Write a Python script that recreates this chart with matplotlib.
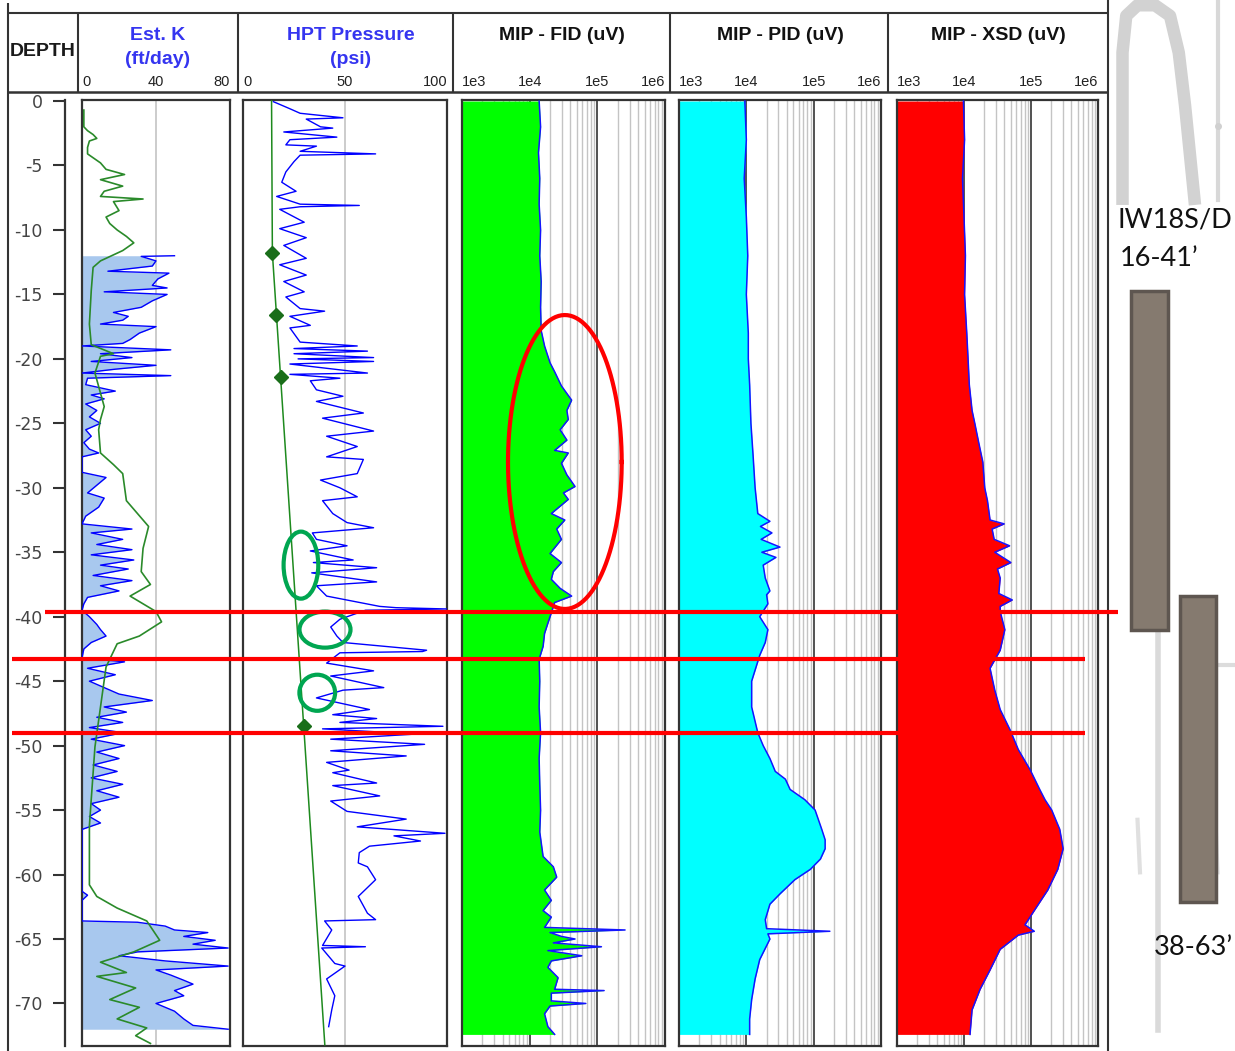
import numpy as np
import matplotlib.pyplot as plt
import matplotlib.transforms as mtransforms
from matplotlib.lines import Line2D
from matplotlib.patches import Ellipse, Rectangle
from matplotlib.ticker import MultipleLocator

plt.rcParams['font.family'] = ['Liberation Sans', 'DejaVu Sans']
plt.rcParams['axes.unicode_minus'] = False

W, H = 1235, 1051
FRAME = '#333333'

# ---- Est. K (ft/day) log, filled from 0 ----
k_depth = [-12.0, -12.05, -12.4, -12.8, -13.2, -13.35, -13.8, -14.3, -14.5, -14.8, -15.0, -15.5,
           -16.0, -16.4, -16.7, -17.0, -17.3, -17.5, -18.0, -18.5, -18.8, -19.0, -19.3, -19.6,
           -19.9, -20.2, -20.5, -20.8, -21.1, -21.3, -21.5, -22.0, -22.5, -22.8, -23.1, -23.5,
           -24.0, -24.5, -25.0, -25.5, -26.0, -26.5, -27.0, -27.3, -27.6, -28.8, -29.2, -29.8,
           -30.4, -30.8, -31.5, -32.2, -32.8, -33.2, -33.5, -34.0, -34.4, -34.8, -35.2, -35.6,
           -36.0, -36.3, -36.8, -37.2, -37.6, -38.0, -38.5, -39.0, -39.5, -40.0, -40.6, -41.0,
           -41.5, -42.0, -42.5, -43.2, -43.5, -44.0, -44.5, -45.0, -45.5, -46.0, -46.5, -47.0,
           -47.4, -47.8, -48.2, -48.6, -49.0, -49.5, -50.0, -50.5, -51.0, -51.5, -52.0, -52.5,
           -53.0, -53.5, -54.0, -54.5, -55.0, -55.5, -56.0, -56.5, -61.3, -61.6, -62.0, -63.6,
           -63.7, -64.0, -64.3, -64.5, -64.8, -65.1, -65.4, -65.7, -66.0, -66.3, -66.7, -67.1,
           -67.4, -67.8, -68.2, -68.5, -69.0, -69.4, -70.0, -70.6, -71.2, -71.7, -72.0]
k_value = [50, 32, 40, 38, 14, 47, 41, 38, 46, 12, 46, 38,
           32, 17, 25, 22, 10, 40, 31, 26, 22, 0, 48, 10,
           27, 5, 40, 18, 0, 48, 3, 2, 18, 5, 12, 2,
           8, 4, 10, 2, 5, 1, 4, 9, 0, 0, 13, 8,
           3, 12, 9, 2, 0, 27, 5, 22, 8, 27, 5, 28,
           10, 25, 6, 27, 10, 20, 3, 1, 0, 4, 8, 10,
           13, 5, 1, 0, 23, 3, 18, 4, 12, 20, 38, 12,
           24, 8, 22, 4, 22, 5, 23, 8, 20, 6, 19, 5,
           22, 8, 20, 5, 10, 4, 10, 0, 0, 3, 0, 0,
           30, 45, 50, 68, 55, 72, 60, 79, 30, 20, 45, 79,
           40, 48, 55, 60, 50, 55, 40, 50, 55, 60, 79]

# green trace on the K track
kg_depth = [-0.7, -2.0, -2.3, -2.6, -2.9, -3.1, -3.6, -4.1, -4.8, -5.3, -5.7, -6.1, -6.6, -7.0,
            -7.4, -7.6, -7.8, -8.5, -9.0, -9.5, -10.0, -10.5, -11.0, -11.6, -12.4, -12.9, -14.7,
            -17.3, -18.9, -19.6, -19.8, -21.1, -23.7, -24.7, -25.5, -27.3, -28.2, -28.9, -31.0,
            -32.5, -33.0, -34.7, -36.5, -37.5, -38.4, -39.0, -39.6, -40.4, -41.5, -42.1, -42.7,
            -43.9, -47.0, -50.1, -56.2, -60.8, -61.7, -62.6, -63.6, -65.1, -66.0, -66.8, -67.6,
            -67.9, -68.8, -69.7, -70.3, -71.2, -71.9, -72.5, -73.1]
kg_value = [1, 1, 3, 6, 8, 4, 3, 3, 10, 13, 23, 10, 22, 12,
            10, 33, 17, 20, 13, 15, 19, 24, 28, 22, 10, 6, 5,
            4, 5, 17, 10, 7, 12, 10, 9, 10, 17, 22, 24,
            33, 36, 33, 32, 37, 26, 33, 40, 43, 31, 19, 17,
            13, 10, 7, 4, 4, 8, 19, 35, 42, 28, 10, 24,
            8, 29, 15, 31, 19, 35, 29, 37]

# ---- HPT pressure (psi) ----
hpt_depth = [-0.05, -0.6, -0.95, -1.3, -1.4, -2.0, -2.1, -2.4, -2.8, -3.0, -3.4, -3.5, -3.9, -4.1,
             -4.2, -4.7, -5.5, -6.3, -7.0, -7.4, -8.0, -8.1, -8.2, -8.4, -9.4, -9.9, -10.6, -11.2,
             -12.2, -12.7, -13.5, -14.0, -14.8, -15.2, -16.1, -16.3, -16.7, -17.4, -17.6, -18.7,
             -19.0, -19.2, -19.4, -19.6, -19.9, -20.0, -20.2, -20.4, -21.1, -21.2, -21.5, -21.7,
             -22.4, -22.9, -23.3, -24.2, -24.6, -25.6, -26.0, -26.8, -27.6, -27.8, -28.9, -29.4,
             -30.0, -30.7, -31.0, -32.0, -32.7, -33.1, -33.5, -34.0, -34.5, -34.9, -35.6, -35.8,
             -36.2, -36.6, -37.3, -37.6, -38.4, -39.2, -39.3, -39.4, -39.5, -40.2, -40.8, -41.5,
             -42.0, -42.6, -42.7, -42.8, -43.6, -44.2, -44.6, -45.5, -45.7, -46.3, -47.2, -47.6,
             -47.9, -48.2, -48.5, -48.7, -49.1, -49.5, -49.9, -50.4, -50.8, -51.3, -51.9, -52.1,
             -52.9, -53.1, -53.9, -54.3, -55.1, -55.7, -56.3, -56.8, -57.0, -57.4, -57.8, -58.3,
             -59.1, -59.4, -60.4, -61.7, -63.0, -63.5, -63.6, -64.3, -65.5, -65.6, -65.7, -66.9,
             -67.1, -68.1, -69.4, -70.5, -71.8]
hpt_value = [14.9, 23, 28, 49, 31, 38, 44, 20, 46, 23, 21, 36, 28, 65,
             28, 25, 21, 19, 26, 16.5, 28, 57, 28, 18, 30, 18, 31, 20,
             31, 18, 31, 20, 30, 21, 28, 40, 23, 33, 23, 28,
             56, 25, 61, 25, 64, 27, 64, 23, 61, 23, 47.5, 33,
             36, 49, 36, 59, 39, 64, 41, 56, 41, 59, 56, 38,
             47.5, 56, 39, 44, 51, 64, 34, 36, 51, 33, 54, 34.5,
             65.5, 33.7, 65.5, 36, 41, 67, 75, 100, 60, 47.5, 43, 46,
             49, 90, 88, 47.5, 41, 64, 43, 69, 49, 36, 62, 44,
             65.5, 47.5, 98, 39, 85, 43, 89, 43, 80, 41, 52, 44,
             65.5, 44, 67, 43, 51, 80, 56, 99, 74, 87, 62, 57,
             56.5, 61, 65, 56.5, 61, 65, 40, 43.5, 39, 60, 38.6, 45,
             50, 41, 45, 43.5, 42]

# hydrostatic line and measured static points
hydro_depth = [0.0, -11.8, -73.2]
hydro_psi = [14.0, 14.4, 40.1]
static_depth = [-11.8, -16.6, -21.4, -48.5]
static_psi = [14.4, 16.4, 18.4, 29.7]

# ---- MIP detectors (uV) ----
fid_depth = [0.0, -2, -4, -6, -8, -10, -12, -14, -16, -17.8, -19.0, -20.3, -21.0, -22.1, -23.2,
             -24.0, -24.7, -25.5, -26.3, -27.1, -27.3, -28.1, -29.0, -29.9, -30.4, -30.9, -32.0,
             -32.5, -33.2, -34.0, -35.1, -35.8, -36.5, -37.1, -37.8, -38.4, -38.9, -39.7, -40.5,
             -41.3, -42.3, -43.3, -45, -47, -49, -51, -53, -55, -56.7, -58.6, -59.4, -60.2,
             -61.2, -62.0, -62.8, -63.3, -64.1, -64.3, -64.5, -64.8, -65.0, -65.3, -65.6, -65.9,
             -66.3, -66.7, -67.2, -68.0, -68.9, -69.0, -69.2, -69.8, -70.0, -70.2, -70.8, -71.8,
             -72.4]
fid_uv = [13800, 14500, 13500, 14100, 13800, 14500, 14100, 14800, 14500, 14800, 16600, 20000,
          23400, 29500, 41700, 35500, 37200, 28200, 35500, 23400, 37200, 29500, 35500, 46800,
          31600, 37200, 20900, 33100, 25100, 29500, 20000, 29500, 22400, 20900, 28200, 41700,
          23400, 20900, 18600, 16600, 15800, 13800, 14100, 13800, 14500, 13800, 14100, 14500,
          14100, 15800, 22400, 25100, 16600, 20900, 15800, 20900, 16600, 257000, 20000, 29500,
          46800, 22400, 115000, 18600, 58900, 20900, 18600, 26300, 23400, 126000, 20900, 20900,
          67600, 20000, 16600, 18600, 23400]

pid_depth = [0, -3, -6, -9, -12, -15, -18, -20, -22, -25, -27.5, -30, -32, -32.6, -33, -33.5, -34,
             -34.6, -35, -35.4, -36, -37, -38.0, -38.3, -39, -40, -41, -42, -43, -45, -47, -49,
             -50, -51, -52, -52.6, -53.4, -54.2, -55, -56.5, -57.3, -58, -58.8, -59.6, -60.4,
             -61.5, -62.3, -63.5, -64.2, -64.4, -64.6, -65, -66.6, -68.1, -69.7, -71.2, -72.4]
pid_uv = [9500, 10000, 9300, 10000, 10500, 10000, 10700, 10700, 11200, 11700, 12600, 13500,
          14800, 22400, 16200, 24000, 16600, 31600, 17000, 27500, 17800, 19100, 22400, 20000,
          20900, 15800, 20900, 19100, 15800, 12000, 12000, 14800, 17800, 22400, 26900, 38000,
          44700, 74100, 105000, 132000, 148000, 148000, 126000, 89100, 52500, 31600, 22400,
          19100, 20000, 174000, 20900, 22400, 15800, 13500, 12000, 11200, 11200]

xsd_depth = [0, -3, -6, -9, -12, -15, -18, -20, -22, -24, -25, -26.5, -28, -30, -31, -32.5, -32.8,
             -33.2, -34, -34.5, -35, -35.8, -36.3, -37, -38.2, -38.7, -39.2, -39.6, -41, -42.6,
             -44, -45.7, -47.2, -48.8, -50.3, -51.9, -53.4, -54.2, -55, -56.5, -58, -59.6, -61.2,
             -62.7, -63.9, -64.4, -64.7, -65.8, -67.4, -68.9, -70.5, -72.4]
xsd_uv = [9800, 10200, 9500, 10000, 10500, 10200, 11000, 11500, 12000, 13200, 14500, 16600,
          19100, 20400, 22400, 24500, 39800, 26300, 28200, 47900, 28800, 50100, 31600, 34700,
          33100, 52500, 34700, 34700, 40700, 34700, 24500, 28800, 34700, 49000, 64600, 97700,
          135000, 162000, 204000, 269000, 302000, 251000, 178000, 115000, 81300, 112000,
          64600, 34700, 24500, 17400, 13200, 12300]

# ---- well screens shown beside the logs ----
screen_top = [-14.7, -38.4]
screen_bottom = [-41.0, -62.1]
screen_label = ['16-41\u2019', '38-63\u2019']

# ---- layout helpers (pixel boxes -> figure fractions) ----
def box(x0, y0, x1, y1):
    return [x0 / W, 1 - y1 / H, (x1 - x0) / W, (y1 - y0) / H]

def fx(px):
    return px / W

def fy(py):
    return 1 - py / H

fig = plt.figure(figsize=(W / 100, H / 100), dpi=100)
fig.patch.set_facecolor('white')

YLIM = (-73.3, 0.08)

# depth scale
ax_d = fig.add_axes(box(8, 100, 65, 1046))
ax_d.set_ylim(*YLIM)
for s in ['right', 'top', 'bottom']:
    ax_d.spines[s].set_visible(False)
ax_d.spines['left'].set_position(('axes', 1.0))
ax_d.spines['left'].set_color(FRAME)
ax_d.spines['left'].set_linewidth(1.6)
ax_d.set_xticks([])
ax_d.yaxis.set_major_locator(MultipleLocator(5))
ax_d.yaxis.set_minor_locator(MultipleLocator(1))
ax_d.tick_params(axis='y', which='major', length=9, width=1.5, color=FRAME, pad=7,
                 labelsize=12.5, labelcolor='#444444')
ax_d.tick_params(axis='y', which='minor', length=4, width=1.3, color=FRAME)
for lab in ax_d.get_yticklabels():
    lab.set_family('DejaVu Sans')
ax_d.patch.set_alpha(0)


def make_panel(x0, x1):
    ax = fig.add_axes(box(x0, 100, x1, 1046), sharey=ax_d)
    ax.set_ylim(*YLIM)
    for s in ax.spines.values():
        s.set_color(FRAME)
        s.set_linewidth(1.6)
    ax.tick_params(axis='y', left=False, labelleft=False)
    ax.xaxis.tick_top()
    ax.tick_params(axis='x', which='both', length=0, pad=8, labelsize=10.5, labelcolor='#222222')
    return ax


def end_align(ax):
    labs = ax.get_xticklabels()
    labs[0].set_ha('left')
    labs[-1].set_ha('right')


# Est. K track
ax_k = make_panel(82, 230)
ax_k.set_xlim(0, 80)
ax_k.set_xticks([0, 40, 80], ['0', '40', '80'])
end_align(ax_k)
ax_k.axvline(40, color='#c8c8c8', lw=1.3, zorder=1)
ax_k.fill_betweenx(k_depth, 0, k_value, color='#a8c8ee', lw=0, zorder=2)
ax_k.plot(k_value, k_depth, color='#0000ff', lw=1.0, zorder=3)
ax_k.plot(kg_value, kg_depth, color='#2a8a2a', lw=1.2, zorder=4)

# HPT track
ax_h = make_panel(243, 447)
ax_h.set_xlim(0, 100)
ax_h.set_xticks([0, 50, 100], ['0', '50', '100'])
end_align(ax_h)
ax_h.axvline(50, color='#c8c8c8', lw=1.3, zorder=1)
ax_h.plot(hpt_value, hpt_depth, color='#0000ff', lw=1.0, zorder=3)
ax_h.plot(hydro_psi, hydro_depth, color='#1e8a1e', lw=1.1, zorder=4)
ax_h.plot(static_psi, static_depth, 'D', color='#1a6e1a', ms=7.5, zorder=5)

# MIP tracks
def mip_panel(x0, x1, depth, values, fill):
    ax = make_panel(x0, x1)
    ax.set_xscale('log')
    ax.set_xlim(1e3, 1e6)
    ax.set_xticks([1e3, 1e4, 1e5, 1e6], ['1e3', '1e4', '1e5', '1e6'])
    ax.minorticks_off()
    end_align(ax)
    for dec in [1e3, 1e4, 1e5]:
        for m in range(2, 10):
            ax.axvline(dec * m, color='#c4c4c4', lw=1.0, zorder=1)
    for dec in [1e4, 1e5]:
        ax.axvline(dec, color='#333333', lw=1.2, zorder=1)
    ax.fill_betweenx(depth, 1e3, values, color=fill, lw=0, zorder=2)
    ax.plot(values, depth, color='#1414ff', lw=1.1, zorder=3)
    return ax

ax_fid = mip_panel(462, 665, fid_depth, fid_uv, '#00ff00')
ax_pid = mip_panel(679, 881, pid_depth, pid_uv, '#00ffff')
ax_xsd = mip_panel(897, 1098, xsd_depth, xsd_uv, '#ff0000')

# ---- header block ----
def fig_line(xs, ys, lw=1.5, color=FRAME, z=5):
    fig.add_artist(Line2D([fx(v) for v in xs], [fy(v) for v in ys], transform=fig.transFigure,
                          color=color, lw=lw, zorder=z, solid_capstyle='butt'))

fig_line([8, 1108], [13, 13])
fig_line([8, 1108], [92, 92], lw=1.8)
fig_line([8, 8], [3, 1051])
fig_line([1108, 1108], [0, 1051])
for xv in [78, 238, 453, 670, 888]:
    fig_line([xv, xv], [13, 92])

hdr = dict(fontsize=14, fontweight='bold', ha='center', va='center')
blue = '#3535f0'
fig.text(fx(43), fy(51), 'DEPTH', color='#1a1a1a', **hdr)
fig.text(fx(158), fy(36), 'Est. K', color=blue, **hdr)
fig.text(fx(158), fy(60), '(ft/day)', color=blue, **hdr)
fig.text(fx(351), fy(36), 'HPT Pressure', color=blue, **hdr)
fig.text(fx(351), fy(60), '(psi)', color=blue, **hdr)
fig.text(fx(562), fy(36), 'MIP - FID (uV)', color='#111111', **hdr)
fig.text(fx(780), fy(36), 'MIP - PID (uV)', color='#111111', **hdr)
fig.text(fx(998), fy(36), 'MIP - XSD (uV)', color='#111111', **hdr)

# ---- interpretation marks ----
blend = mtransforms.blended_transform_factory(fig.transFigure, ax_d.transData)
for d, x0, x1 in [(-39.6, 45, 1118), (-43.3, 12, 1085), (-49.0, 12, 1085)]:
    fig.add_artist(Line2D([fx(x0), fx(x1)], [d, d], transform=blend, color='#ff0000',
                          lw=3.0, zorder=10, solid_capstyle='butt'))

t = np.linspace(0, 2 * np.pi, 240)
ax_fid.plot(10 ** (4.52 + 0.84 * np.cos(t)), -28.0 + 11.4 * np.sin(t),
            color='#ff0000', lw=3.0, zorder=6, clip_on=False)

for cx, cy, w, h in [(28.4, -36.0, 17.0, 5.2), (40.2, -41.0, 25.0, 2.8), (36.4, -45.9, 17.5, 2.8)]:
    ax_h.add_patch(Ellipse((cx, cy), w, h, fill=False, ec='#00a651', lw=3.0, zorder=6,
                           clip_on=False))

# ---- well construction sketch at the right ----
ax_w = fig.add_axes(box(1110, 0, 1235, 1051))
ax_w.set_xlim(0, 1)
ax_w.set_ylim(-(1051 - 101) / 12.9, 101 / 12.9)
ax_w.axis('off')

# faded well outline
gray = '#d2d2d2'
ax_w.plot([0.10, 0.10, 0.13, 0.22, 0.36, 0.48, 0.55, 0.60, 0.68],
          [0.805, 0.95, 0.985, 0.995, 0.995, 0.985, 0.95, 0.90, 0.805],
          transform=ax_w.transAxes, color=gray, lw=9, solid_capstyle='butt')
ax_w.plot([0.86, 0.86], [1.0, 0.81], transform=ax_w.transAxes, color='#d8d8d8', lw=3)
ax_w.plot([0.86], [0.88], 'o', transform=ax_w.transAxes, color='#d0d0d0', ms=4)
ax_w.plot([0.385, 0.385], [0.40, 0.02], transform=ax_w.transAxes, color='#dadada', lw=4)
ax_w.plot([0.84, 1.0], [0.367, 0.367], transform=ax_w.transAxes, color='#dcdcdc', lw=3)
ax_w.plot([0.84, 0.86], [0.23, 0.17], transform=ax_w.transAxes, color='#e0e0e0', lw=3)
ax_w.plot([0.22, 0.24], [0.22, 0.17], transform=ax_w.transAxes, color='#e0e0e0', lw=3)

x_left = [0.17, 0.56]
for xl, top, bot in zip(x_left, screen_top, screen_bottom):
    ax_w.add_patch(Rectangle((xl, bot), 0.29, top - bot, fc='#857a6f', ec='#5e5650', lw=2.5,
                             zorder=3))

lab = dict(fontsize=19.5, family=['Lato', 'DejaVu Sans'], color='#111111', va='center')
ax_w.text(0.06, -9.2, 'IW18S/D', ha='left', **lab)
ax_w.text(0.08, -12.2, screen_label[0], ha='left', **lab)
ax_w.text(0.35, -65.6, screen_label[1], ha='left', **lab)

fig.savefig('out.png', dpi=100)
